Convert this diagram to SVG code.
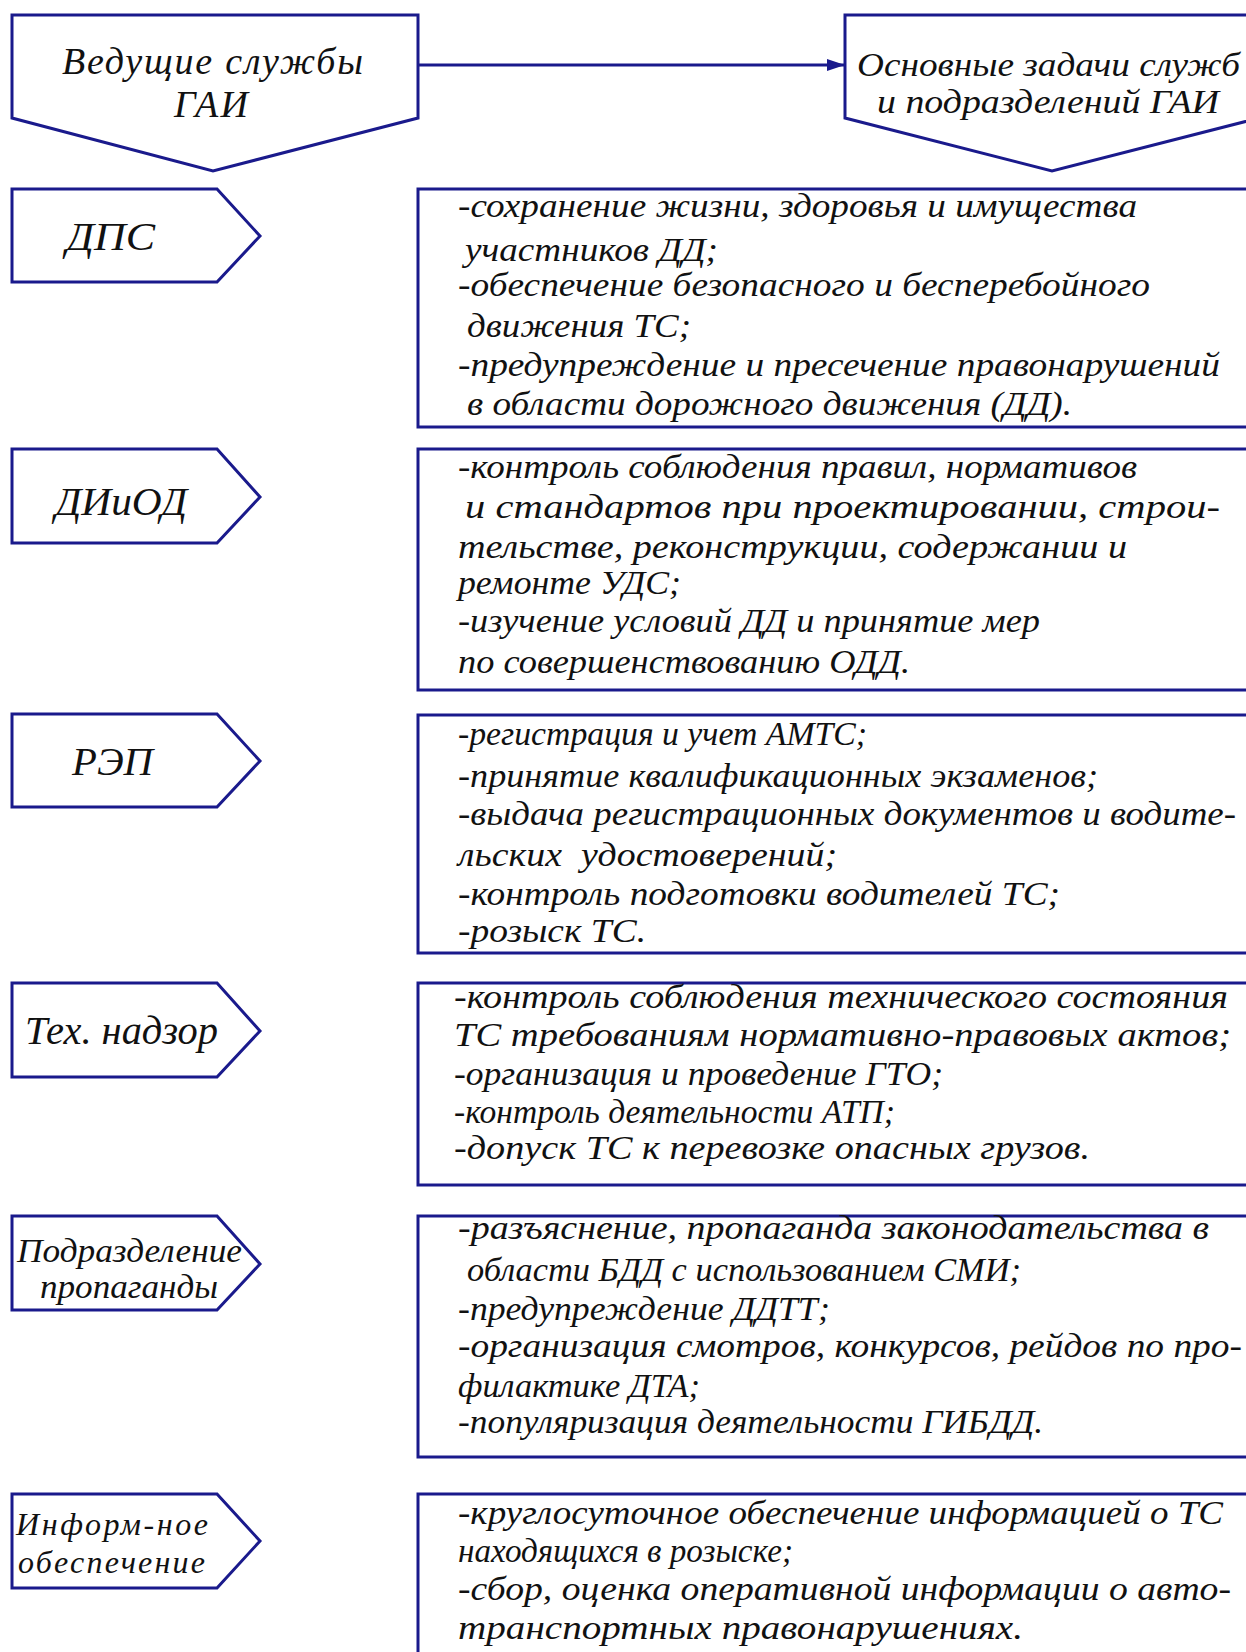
<svg xmlns="http://www.w3.org/2000/svg" width="1246" height="1652" viewBox="0 0 1246 1652">
<style>
  .shape { fill: #ffffff; stroke: #1a1a8c; stroke-width: 3; stroke-linejoin: miter; }
  .conn { fill: none; stroke: #1a1a8c; stroke-width: 3; }
  .t { font-family: "Liberation Serif", "Times New Roman", serif; font-style: italic; fill: #111111; }
  .big { font-size: 40px; }
  .hd { font-size: 38px; }
  .hd2 { font-size: 34px; }
  .mid { font-size: 33px; }
  .sm { font-size: 32px; }
  .b { font-size: 34px; }
</style>
<defs>
  <marker id="arr" viewBox="0 0 18 12" refX="18" refY="6" markerWidth="18" markerHeight="12" markerUnits="userSpaceOnUse" orient="auto">
    <path d="M0,0 L18,6 L0,12 Z" fill="#1a1a8c"/>
  </marker>
</defs>
<rect x="0" y="0" width="1246" height="1652" fill="#ffffff"/>

<g id="connectors">
  <line class="conn" x1="418" y1="65" x2="845" y2="65" marker-end="url(#arr)"/>
</g>

<g id="head-services">
  <polygon class="shape" points="12,15 418,15 418,118 213,171 12,118"/>
  <text class="t hd" x="62" y="74" textLength="301" lengthAdjust="spacing">Ведущие службы</text>
  <text class="t hd" x="174" y="117" textLength="74" lengthAdjust="spacing">ГАИ</text>
</g>

<g id="head-tasks">
  <polygon class="shape" points="845,15 1259,15 1259,118 1052,171 845,118"/>
  <text class="t hd2" x="857" y="76" textLength="383" lengthAdjust="spacingAndGlyphs">Основные задачи служб</text>
  <text class="t hd2" x="877" y="113" textLength="342" lengthAdjust="spacingAndGlyphs">и подразделений ГАИ</text>
</g>

<g id="svc-dps">
  <polygon class="shape" points="12,189 217,189 260,236 217,282 12,282"/>
  <text class="t big" x="66" y="250" textLength="89" lengthAdjust="spacingAndGlyphs">ДПС</text>
</g>
<g id="task-dps">
  <rect class="shape" x="418" y="189" width="900" height="238"/>
  <text class="t b" x="458" y="217" textLength="679" lengthAdjust="spacingAndGlyphs">-сохранение жизни, здоровья и имущества</text>
  <text class="t b" x="465" y="261" textLength="253" lengthAdjust="spacingAndGlyphs">участников ДД;</text>
  <text class="t b" x="458" y="296" textLength="692" lengthAdjust="spacingAndGlyphs">-обеспечение безопасного и бесперебойного</text>
  <text class="t b" x="467" y="337" textLength="224" lengthAdjust="spacingAndGlyphs">движения ТС;</text>
  <text class="t b" x="458" y="376" textLength="762" lengthAdjust="spacingAndGlyphs">-предупреждение и пресечение правонарушений</text>
  <text class="t b" x="467" y="415" textLength="605" lengthAdjust="spacingAndGlyphs">в области дорожного движения (ДД).</text>
</g>

<g id="svc-diiod">
  <polygon class="shape" points="12,449 217,449 260,497 217,543 12,543"/>
  <text class="t big" x="55" y="515" textLength="132" lengthAdjust="spacingAndGlyphs">ДИиОД</text>
</g>
<g id="task-diiod">
  <rect class="shape" x="418" y="449" width="900" height="241"/>
  <text class="t b" x="458" y="478" textLength="679" lengthAdjust="spacingAndGlyphs">-контроль соблюдения правил, нормативов</text>
  <text class="t b" x="465" y="518" textLength="755" lengthAdjust="spacingAndGlyphs">и стандартов при проектировании, строи-</text>
  <text class="t b" x="458" y="558" textLength="669" lengthAdjust="spacingAndGlyphs">тельстве, реконструкции, содержании и</text>
  <text class="t b" x="458" y="594" textLength="223" lengthAdjust="spacingAndGlyphs">ремонте УДС;</text>
  <text class="t b" x="458" y="632" textLength="582" lengthAdjust="spacingAndGlyphs">-изучение условий ДД и принятие мер</text>
  <text class="t b" x="458" y="673" textLength="452" lengthAdjust="spacingAndGlyphs">по совершенствованию ОДД.</text>
</g>

<g id="svc-rep">
  <polygon class="shape" points="12,714 217,714 260,761 217,807 12,807"/>
  <text class="t big" x="72" y="775" textLength="81" lengthAdjust="spacingAndGlyphs">РЭП</text>
</g>
<g id="task-rep">
  <rect class="shape" x="418" y="715" width="900" height="238"/>
  <text class="t b" x="458" y="745" textLength="409" lengthAdjust="spacingAndGlyphs">-регистрация и учет АМТС;</text>
  <text class="t b" x="458" y="787" textLength="640" lengthAdjust="spacingAndGlyphs">-принятие квалификационных экзаменов;</text>
  <text class="t b" x="458" y="825" textLength="778" lengthAdjust="spacingAndGlyphs">-выдача регистрационных документов и водите-</text>
  <text class="t b" x="458" y="866" textLength="379" lengthAdjust="spacingAndGlyphs" style="white-space:pre">льских  удостоверений;</text>
  <text class="t b" x="458" y="905" textLength="602" lengthAdjust="spacingAndGlyphs">-контроль подготовки водителей ТС;</text>
  <text class="t b" x="458" y="942" textLength="188" lengthAdjust="spacingAndGlyphs">-розыск ТС.</text>
</g>

<g id="svc-tech">
  <polygon class="shape" points="12,983 217,983 260,1031 217,1077 12,1077"/>
  <text class="t big" x="25" y="1044" textLength="193" lengthAdjust="spacingAndGlyphs">Тех. надзор</text>
</g>
<g id="task-tech">
  <rect class="shape" x="418" y="983" width="900" height="202"/>
  <text class="t b" x="454" y="1008" textLength="774" lengthAdjust="spacingAndGlyphs">-контроль соблюдения технического состояния</text>
  <text class="t b" x="454" y="1046" textLength="777" lengthAdjust="spacingAndGlyphs">ТС требованиям нормативно-правовых актов;</text>
  <text class="t b" x="454" y="1085" textLength="489" lengthAdjust="spacingAndGlyphs">-организация и проведение ГТО;</text>
  <text class="t b" x="454" y="1123" textLength="441" lengthAdjust="spacingAndGlyphs">-контроль деятельности АТП;</text>
  <text class="t b" x="454" y="1159" textLength="636" lengthAdjust="spacingAndGlyphs">-допуск ТС к перевозке опасных грузов.</text>
</g>

<g id="svc-prop">
  <polygon class="shape" points="12,1216 217,1216 260,1264 217,1310 12,1310"/>
  <text class="t mid" x="17" y="1262" textLength="225" lengthAdjust="spacingAndGlyphs">Подразделение</text>
  <text class="t mid" x="40" y="1298" textLength="178" lengthAdjust="spacingAndGlyphs">пропаганды</text>
</g>
<g id="task-prop">
  <rect class="shape" x="418" y="1216" width="900" height="241"/>
  <text class="t b" x="458" y="1239" textLength="751" lengthAdjust="spacingAndGlyphs">-разъяснение, пропаганда законодательства в</text>
  <text class="t b" x="467" y="1281" textLength="554" lengthAdjust="spacingAndGlyphs">области БДД с использованием СМИ;</text>
  <text class="t b" x="458" y="1320" textLength="372" lengthAdjust="spacingAndGlyphs">-предупреждение ДДТТ;</text>
  <text class="t b" x="458" y="1357" textLength="784" lengthAdjust="spacingAndGlyphs">-организация смотров, конкурсов, рейдов по про-</text>
  <text class="t b" x="458" y="1397" textLength="242" lengthAdjust="spacingAndGlyphs">филактике ДТА;</text>
  <text class="t b" x="458" y="1433" textLength="585" lengthAdjust="spacingAndGlyphs">-популяризация деятельности ГИБДД.</text>
</g>

<g id="svc-info">
  <polygon class="shape" points="12,1494 217,1494 260,1541 217,1588 12,1588"/>
  <text class="t sm" x="16" y="1535" textLength="192" lengthAdjust="spacing">Информ-ное</text>
  <text class="t sm" x="18" y="1573" textLength="187" lengthAdjust="spacing">обеспечение</text>
</g>
<g id="task-info">
  <rect class="shape" x="418" y="1494" width="900" height="300"/>
  <text class="t b" x="458" y="1524" textLength="765" lengthAdjust="spacingAndGlyphs">-круглосуточное обеспечение информацией о ТС</text>
  <text class="t b" x="458" y="1562" textLength="335" lengthAdjust="spacingAndGlyphs">находящихся в розыске;</text>
  <text class="t b" x="458" y="1600" textLength="773" lengthAdjust="spacingAndGlyphs">-сбор, оценка оперативной информации о авто-</text>
  <text class="t b" x="458" y="1639" textLength="565" lengthAdjust="spacingAndGlyphs">транспортных правонарушениях.</text>
</g>
</svg>
